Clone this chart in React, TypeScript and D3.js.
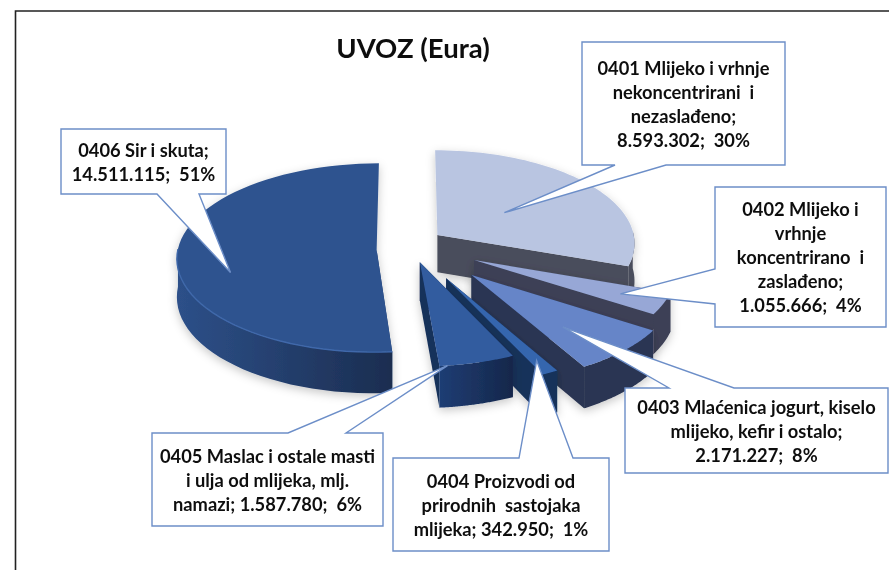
import React from 'react';
import * as d3 from 'd3';

const title = 'UVOZ (Eura)';
const categories = ['0401', '0402', '0403', '0404', '0405', '0406'];
const values = [8593302, 1055666, 2171227, 342950, 1587780, 14511115];
const labelLines = [
  ['0401 Mlijeko i vrhnje', 'nekoncentrirani  i', 'nezaslađeno;', '8.593.302;  30%'],
  ['0402 Mlijeko i', 'vrhnje', 'koncentrirano  i', 'zaslađeno;', '1.055.666;  4%'],
  ['0403 Mlaćenica jogurt, kiselo', 'mlijeko, kefir i ostalo;', '2.171.227;  8%'],
  ['0404 Proizvodi od', 'prirodnih  sastojaka', 'mlijeka; 342.950;  1%'],
  ['0405 Maslac i ostale masti', 'i ulja od mlijeka, mlj.', 'namazi; 1.587.780;  6%'],
  ['0406 Sir i skuta;', '14.511.115;  51%'],
];

// how far each slice is pulled out of the pie, and in which direction (degrees clockwise from top)
const explode = [0.161, 0.403, 0.494, 0.455, 0.255, 0.194];
const explodeAngle = [74, 124, 140, 155, 165.5, 231.9];
// where the callout pointer lands: share of the radius, and degrees off the bisector
const tipRadius = [0.43, 0.78, 0.66, 0.88, 1.0, 0.755];
const tipShift = [0, 0, 4, 0, 8, -15.6];

const topColors = ['#B9C5E1', '#97A7D6', '#6685C8', '#3566AE', '#325C9F', '#2E538F'];
const sideColors = ['#4A4E5C', '#3C4056', '#2A3552', '#16305A', '#16305A', '#223D6C'];
const rimLeft = ['#4A4E5C', '#3C4056', '#2A3552', '#16305A', '#1F3D74', '#2D5089'];
const rimRight = ['#4A4E5C', '#3C4056', '#2A3552', '#16305A', '#15274A', '#1B2D50'];
const edgeColors = ['none', 'none', 'none', 'none', 'none', '#3F68AA'];

// callout boxes: x0, y0, x1, y1 and the stretch of the edge the pointer leaves from
const boxes = [
  { x0: 582, y0: 42, x1: 785, y1: 165, side: 'bottom', a: 615, b: 666 },
  { x0: 715, y0: 187, x1: 886, y1: 327, side: 'left', a: 269, b: 304 },
  { x0: 625, y0: 388, x1: 888, y1: 473, side: 'top', a: 669, b: 734 },
  { x0: 393, y0: 458, x1: 609, y1: 551, side: 'top', a: 519, b: 573 },
  { x0: 152, y0: 433, x1: 383, y1: 526, side: 'top', a: 288, b: 346 },
  { x0: 61, y0: 129, x1: 226, y1: 194, side: 'bottom', a: 157, b: 199 },
];

const width = 889;
const height = 570;
const perspective = 0.08;
const depth = 37.5;
const lineHeight = 24;

const xScale = d3.scaleLinear().domain([-1, 1]).range([210, 604]);
const yScale = d3.scaleLinear().domain([-1, 1]).range([147, 331]);

const rad = (deg: number) => (deg * Math.PI) / 180;

// ground plane (radius = 1) to screen, z in pixels downwards
const project = (gx: number, gy: number, z = 0): [number, number] => {
  const w = 1 / (1 - perspective * gy);
  return [xScale(gx * w), yScale(gy * w) + z * w];
};

const pie = d3.pie<number>().sort(null).value(d => d)(values);
const line = d3.line();

const slices = pie.map((p, i) => {
  const ox = explode[i] * Math.sin(rad(explodeAngle[i]));
  const oy = -explode[i] * Math.cos(rad(explodeAngle[i]));
  const at = (angle: number, r: number, z = 0) =>
    project(ox + r * Math.sin(angle), oy - r * Math.cos(angle), z);
  const angles = d3.range(0, 61).map(k => p.startAngle + ((p.endAngle - p.startAngle) * k) / 60);
  // only the front of the rim and the radial walls running towards the viewer can be seen
  const front = angles.filter(a => Math.cos(a) < 0.05);
  const rimTop = front.map(a => at(a, 1));
  const rimBottom = front.map(a => at(a, 1, depth));
  const apex = at(0, 0);
  const apexLow = at(0, 0, depth);
  const wall = (angle: number) =>
    Math.cos(angle) < 0
      ? line([apex, at(angle, 1), at(angle, 1, depth), apexLow])! + 'Z'
      : null;
  return {
    i,
    top: line([apex, ...angles.map(a => at(a, 1))])! + 'Z',
    wallStart: wall(p.startAngle),
    wallEnd: wall(p.endAngle),
    rim: line([...rimTop, ...rimBottom.slice().reverse()])! + 'Z',
    edge: line(rimTop)!,
    tip: at((p.startAngle + p.endAngle) / 2 + rad(tipShift[i]), tipRadius[i]),
  };
});

const calloutPath = (i: number) => {
  const { x0, y0, x1, y1, side, a, b } = boxes[i];
  const tip = slices[i].tip;
  const pts: [number, number][] = [[x0, y0]];
  if (side === 'top') pts.push([a, y0], tip, [b, y0]);
  pts.push([x1, y0], [x1, y1]);
  if (side === 'bottom') pts.push([b, y1], tip, [a, y1]);
  pts.push([x0, y1]);
  if (side === 'left') pts.push([x0, b], tip, [x0, a]);
  return line(pts)! + 'Z';
};

const App = () => (
  <svg
    width={width}
    height={height}
    viewBox={`0 0 ${width} ${height}`}
    style={{ position: 'absolute', left: 0, top: 0, background: '#fff' }}
    fontFamily="Lato, 'Open Sans', sans-serif"
    fontWeight={700}
  >
    <defs>
      <filter id="soft" x="-5%" y="-5%" width="110%" height="110%">
        <feGaussianBlur stdDeviation="0.45" />
      </filter>
      <filter id="shadow" x="-20%" y="-20%" width="140%" height="140%">
        <feDropShadow dx="0" dy="3" stdDeviation="5" floodColor="#000" floodOpacity="0.22" />
      </filter>
      {slices.map(s => (
        <linearGradient key={s.i} id={`rim${s.i}`} x1="0" x2="1" y1="0" y2="0">
          <stop offset="0" stopColor={rimLeft[s.i]} />
          <stop offset="1" stopColor={rimRight[s.i]} />
        </linearGradient>
      ))}
    </defs>
    <g filter="url(#soft)">
      <path d={`M15.5 570V11H889`} fill="none" stroke="#222" strokeWidth={1.6} />
      <text x={413} y={58} textAnchor="middle" fontSize={27.5} fill="#111">
        {title}
      </text>
      {slices.map(s => (
        <g key={categories[s.i]} filter="url(#shadow)">
          {s.wallStart && <path d={s.wallStart} fill={sideColors[s.i]} />}
          {s.wallEnd && <path d={s.wallEnd} fill={sideColors[s.i]} />}
          <path d={s.rim} fill={`url(#rim${s.i})`} />
          <path d={s.top} fill={topColors[s.i]} />
          <path d={s.edge} fill="none" stroke={edgeColors[s.i]} strokeWidth={1.4} />
        </g>
      ))}
      {slices.map(s => {
        const box = boxes[s.i];
        const cx = (box.x0 + box.x1) / 2;
        const lines = labelLines[s.i];
        const firstBaseline = (box.y0 + box.y1) / 2 - ((lines.length - 1) * lineHeight) / 2 + 7;
        return (
          <g key={s.i}>
            <path d={calloutPath(s.i)} fill="#fff" stroke="#6C8EC8" strokeWidth={1.4} />
            <text textAnchor="middle" fontSize={18.3} fill="#111">
              {lines.map((t, k) => (
                <tspan key={k} x={cx} y={firstBaseline + k * lineHeight} style={{ whiteSpace: 'pre' }}>
                  {t}
                </tspan>
              ))}
            </text>
          </g>
        );
      })}
    </g>
  </svg>
);

export default App;
